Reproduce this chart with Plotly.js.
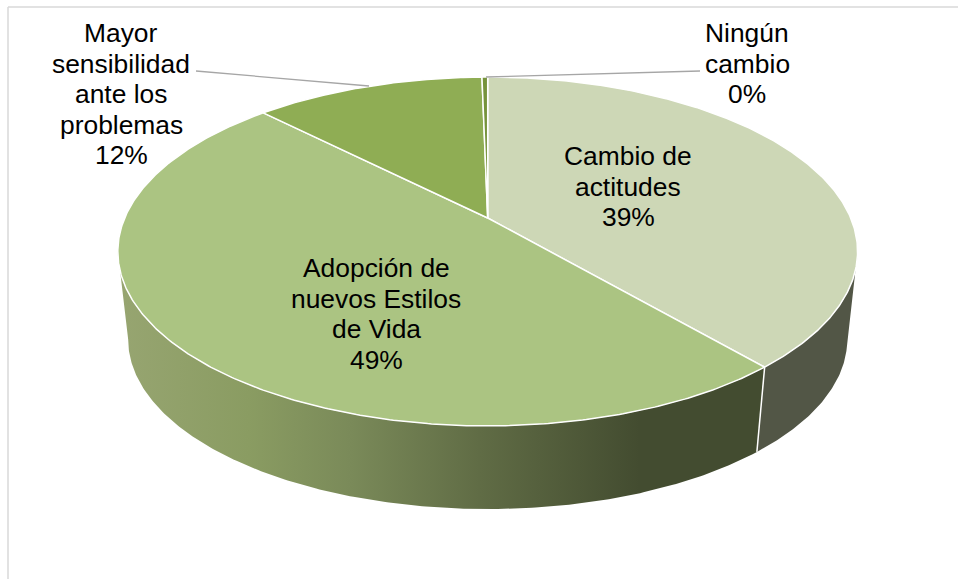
<!DOCTYPE html>
<html><head><meta charset="utf-8">
<script src="https://cdn.plot.ly/plotly-3.0.1.min.js"></script>
<style>html,body{margin:0;padding:0;background:#fff}#c{width:958px;height:579px}</style>
</head><body><div id="c"></div>
<script>
// --- chart data (clockwise from 12 o'clock)
const categories = ["Cambio de actitudes","Adopción de nuevos Estilos de Vida","Mayor sensibilidad ante los problemas","Ningún cambio"];
const values = [38.7, 48.9, 12.1, 0.3];
const labelLines = [["Cambio de","actitudes"],["Adopción de","nuevos Estilos","de Vida"],["Mayor","sensibilidad","ante los","problemas"],["Ningún","cambio"]];

// --- styles and placement
const topColors = ["#cdd7b6","#abc482","#8fad54","#76933c"];
const labelX = [628,376,121,747];
const labelY = [156,268,33,33];
const lineStep = 30.6;
const leaderLines = [null,null,[[196,71],[369,86]],[[700,71],[486,77]]];
const geom = {ax:487.7, ay:218, A:363, B:168, k:0.192, scale:0.972, lowerAy:307};
const gradStart = 118, gradStop = 770;
const wallScale = [[0,"rgb(151,165,113)"],[0.2,"rgb(138,156,98)"],[0.356,"rgb(122,138,89)"],[0.555,"rgb(96,108,69)"],[0.8,"rgb(67,76,48)"],[1,"rgb(67,76,48)"]];
const wallRight = "rgb(82,86,70)";

function project(deg, lower){
  const t = deg*Math.PI/180, u = Math.sin(t), v = -Math.cos(t), d = 1-geom.k*v;
  const s = lower?geom.scale:1, ay = lower?geom.lowerAy:geom.ay;
  return [geom.ax + s*geom.A*u/d, ay + s*geom.B*v/d];
}
const total = values.reduce((a,b)=>a+b,0);
const edges=[0]; values.forEach(v=>edges.push(edges[edges.length-1]+v/total*360));
const silhouette = Math.acos(-geom.k)*180/Math.PI; // angle where the rim turns away
const traces=[];
function wallPath(from,to){
  const arc=[]; const m=Math.ceil((to-from)/0.5);
  for(let j=0;j<=m;j++) arc.push(from+(to-from)*j/m);
  const up=arc.map(d=>project(d)), lo=arc.map(d=>project(d,true)).reverse();
  const p=up.concat(lo,[up[0]]);
  return {x:p.map(q=>q[0]),y:p.map(q=>q[1])};
}
// right wall (first slice), left wall (second slice) with a horizontal shading
const wr=wallPath(silhouette,edges[1]);
traces.push({type:"scatter",mode:"lines",x:wr.x,y:wr.y,fill:"toself",fillcolor:wallRight,line:{width:0,color:wallRight},hoverinfo:"skip",showlegend:false});
const wl=wallPath(edges[1],360-silhouette);
traces.push({type:"scatter",mode:"lines",x:wl.x,y:wl.y,fill:"toself",
  fillgradient:{type:"horizontal",start:gradStart,stop:gradStop,colorscale:wallScale},
  line:{width:0,color:"rgba(0,0,0,0)"},hoverinfo:"skip",showlegend:false});
// seam between wall segments
const s0=project(edges[1]),s1=project(edges[1],true);
traces.push({type:"scatter",mode:"lines",x:[s0[0],s1[0]],y:[s0[1],s1[1]],line:{color:"#fff",width:1.5},hoverinfo:"skip",showlegend:false});
// top face
values.forEach((v,i)=>{
  const xs=[geom.ax],ys=[geom.ay];
  const n=Math.max(2,Math.ceil((edges[i+1]-edges[i])/0.5));
  for(let j=0;j<=n;j++){const p=project(edges[i]+(edges[i+1]-edges[i])*j/n);xs.push(p[0]);ys.push(p[1]);}
  xs.push(geom.ax);ys.push(geom.ay);
  traces.push({type:"scatter",mode:"lines",x:xs,y:ys,fill:"toself",fillcolor:topColors[i],line:{color:"#ffffff",width:1.5},hoverinfo:"skip",showlegend:false});
});
// leader lines
leaderLines.forEach(l=>{ if(l) traces.push({type:"scatter",mode:"lines",x:l.map(p=>p[0]),y:l.map(p=>p[1]),
  line:{color:"#a6a6a6",width:1.3},hoverinfo:"skip",showlegend:false}); });

// labels
const annotations=[];
labelLines.forEach((ls,i)=>{
  ls.concat(Math.round(values[i])+"%").forEach((t,j)=>{
    annotations.push({x:labelX[i],y:labelY[i]+j*lineStep,xref:"x",yref:"y",text:t,showarrow:false,
      xanchor:"center",yanchor:"middle",font:{family:"Liberation Sans, Arial, sans-serif",size:26.4,color:"#000"}});
  });
});
const layout={width:958,height:579,margin:{l:0,r:0,t:0,b:0},paper_bgcolor:"#fff",plot_bgcolor:"#fff",showlegend:false,
  xaxis:{range:[0,958],visible:false,fixedrange:true},
  yaxis:{range:[579,0],visible:false,fixedrange:true},
  annotations,
  shapes:[
    {type:"line",xref:"x",yref:"y",x0:8,x1:958,y0:7,y1:7,line:{color:"#d9d9d9",width:1.5}},
    {type:"line",xref:"x",yref:"y",x0:8,x1:8,y0:7,y1:579,line:{color:"#d9d9d9",width:1.5}}
  ]};
Plotly.newPlot("c",traces,layout,{displayModeBar:false,staticPlot:true});
</script></body></html>
